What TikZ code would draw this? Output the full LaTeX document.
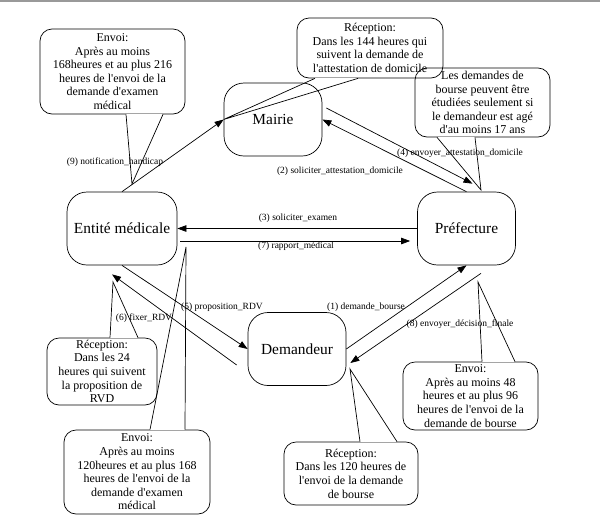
\documentclass[tikz,border=0pt]{standalone}
\usepackage{fontspec}
\setmainfont{Liberation Serif}
\usetikzlibrary{arrows.meta}

\tikzset{
	actor/.style={draw, rounded corners=20pt, minimum width=98pt, minimum height=73pt, inner sep=2pt, font=\fontsize{15.4}{18}\selectfont},
	note/.style={draw, rounded corners=12pt, align=center, inner sep=0pt, font=\fontsize{12}{13.6}\selectfont},
	msg/.style={-{Triangle[length=9pt,width=6.5pt]}},
	lbl/.style={inner sep=0pt, font=\fontsize{9.5}{11}\selectfont},
}
\newcommand{\apo}{\textquotesingle}
% pointer of a note: anchor, left and right shift of its base, tip
\newcommand{\notetip}[4]{%
	\draw[white,line width=1.6pt] ([xshift=#2pt]#1) -- ([xshift=#3pt]#1);
	\draw ([xshift=#2pt]#1) -- (#4) -- ([xshift=#3pt]#1);
}

\begin{document}
\begin{tikzpicture}[x=1pt,y=-1pt,line width=0.7pt]
		\useasboundingbox (0,0) rectangle (600,520);
		\fill[black!40] (0,0) rectangle (600,2);
		% actors
		\node[actor] (mairie) at (273,119.5) {Mairie};
		\node[actor,minimum width=110pt] (ent) at (122,228.5) {Entité médicale};
		\node[actor] (pref) at (466.5,228.5) {Préfecture};
		\node[actor] (dem) at (297,349) {Demandeur};
		% messages
		\draw[msg] (ent.north) -- (mairie.west);
		\draw[msg] (pref.north) -- (mairie.east);
		\draw[msg] ([xshift=4pt,yshift=11.5pt]mairie.east) -- ([xshift=6pt,yshift=8pt]pref.north);
		\draw[msg] (pref.west) -- (ent.east);
		\draw[msg] ([xshift=3pt,yshift=-12.5pt]ent.east) -- ([xshift=-7pt,yshift=-12.5pt]pref.west);
		\draw[msg] (ent.south) -- (dem.west);
		\draw[msg] ([xshift=-11pt,yshift=-16pt]dem.west) -- ([xshift=-10pt,yshift=-9pt]ent.south);
		\draw[msg] (dem.east) -- (pref.south);
		\draw[msg] ([xshift=14.5pt,yshift=-8pt]pref.south) -- ([xshift=4pt,yshift=-14pt]dem.east);
		% labels
		\node[lbl] (l9) at (115,162) {(9) notification\_handicap};
		\node[lbl] (l2) at (340,171) {(2) soliciter\_attestation\_domicile};
		\node[lbl] (l4) at (460,153) {(4) envoyer\_attestation\_domicile};
		\node[lbl] (l3) at (298,218) {(3) soliciter\_examen};
		\node[lbl] (l7) at (296,246) {(7) rapport\_médical};
		\node[lbl] (l5) at (222,307) {(5) proposition\_RDV};
		\node[lbl] (l6) at (144,318) {(6) fixer\_RDV};
		\node[lbl] (l1) at (366,307) {(1) demande\_bourse};
		\node[lbl] (l8) at (460,324) {(8) envoyer\_décision\_finale};
		% notes
		\node[note,minimum width=145pt,minimum height=85pt] (envoi9) at (112.5,71.5) {Envoi:\\Après au moins\\168heures et au plus 216\\heures de l\apo envoi de la\\demande d\apo examen\\médical};
		\node[note,minimum width=146pt,minimum height=60pt] (recep2) at (370,48) {Réception:\\Dans les 144 heures qui\\suivent la demande de\\l\apo attestation de domicile};
		\node[note,minimum width=135pt,minimum height=69pt] (age) at (482.5,102.5) {Les demandes de\\bourse peuvent être\\étudiées seulement si\\le demandeur est agé\\d\apo au moins 17 ans};
		\node[note,minimum width=110pt,minimum height=67pt] (recep6) at (102,371.5) {Réception:\\Dans les 24\\heures qui suivent\\la proposition de\\RVD};
		\node[note,minimum width=146pt,minimum height=84pt] (envoi7) at (137,472) {Envoi:\\Après au moins\\120heures et au plus 168\\heures de l\apo envoi de la\\demande d\apo examen\\médical};
		\node[note,minimum width=135pt,minimum height=68pt] (envoi8) at (470.5,396) {Envoi:\\Après au moins 48\\heures et au plus 96\\heures de l\apo envoi de la\\demande de bourse};
		\node[note,minimum width=134pt,minimum height=63pt] (recep1) at (351,473.5) {Réception:\\Dans les 120 heures de\\l\apo envoi de la demande\\de bourse};
		% pointers
		\coordinate (t9) at (132,184);
		\coordinate (tage) at (481,190);
		\coordinate (t6) at (113,282);
		\coordinate (t7) at (186,247);
		\coordinate (t8) at (478,282);
		\coordinate (t1) at (350,369);
		\notetip{envoi9.south}{13.5}{50.5}{t9}
		\notetip{recep2.south}{-55}{-12}{mairie.west}
		\notetip{age.south}{-45.5}{-7.5}{tage}
		\notetip{recep6.north}{8}{36}{t6}
		\notetip{envoi7.north}{13}{48}{t7}
		\notetip{envoi8.north}{11.5}{44.5}{t8}
		\notetip{recep1.north}{9}{46}{t1}
	\end{tikzpicture}
\end{document}
